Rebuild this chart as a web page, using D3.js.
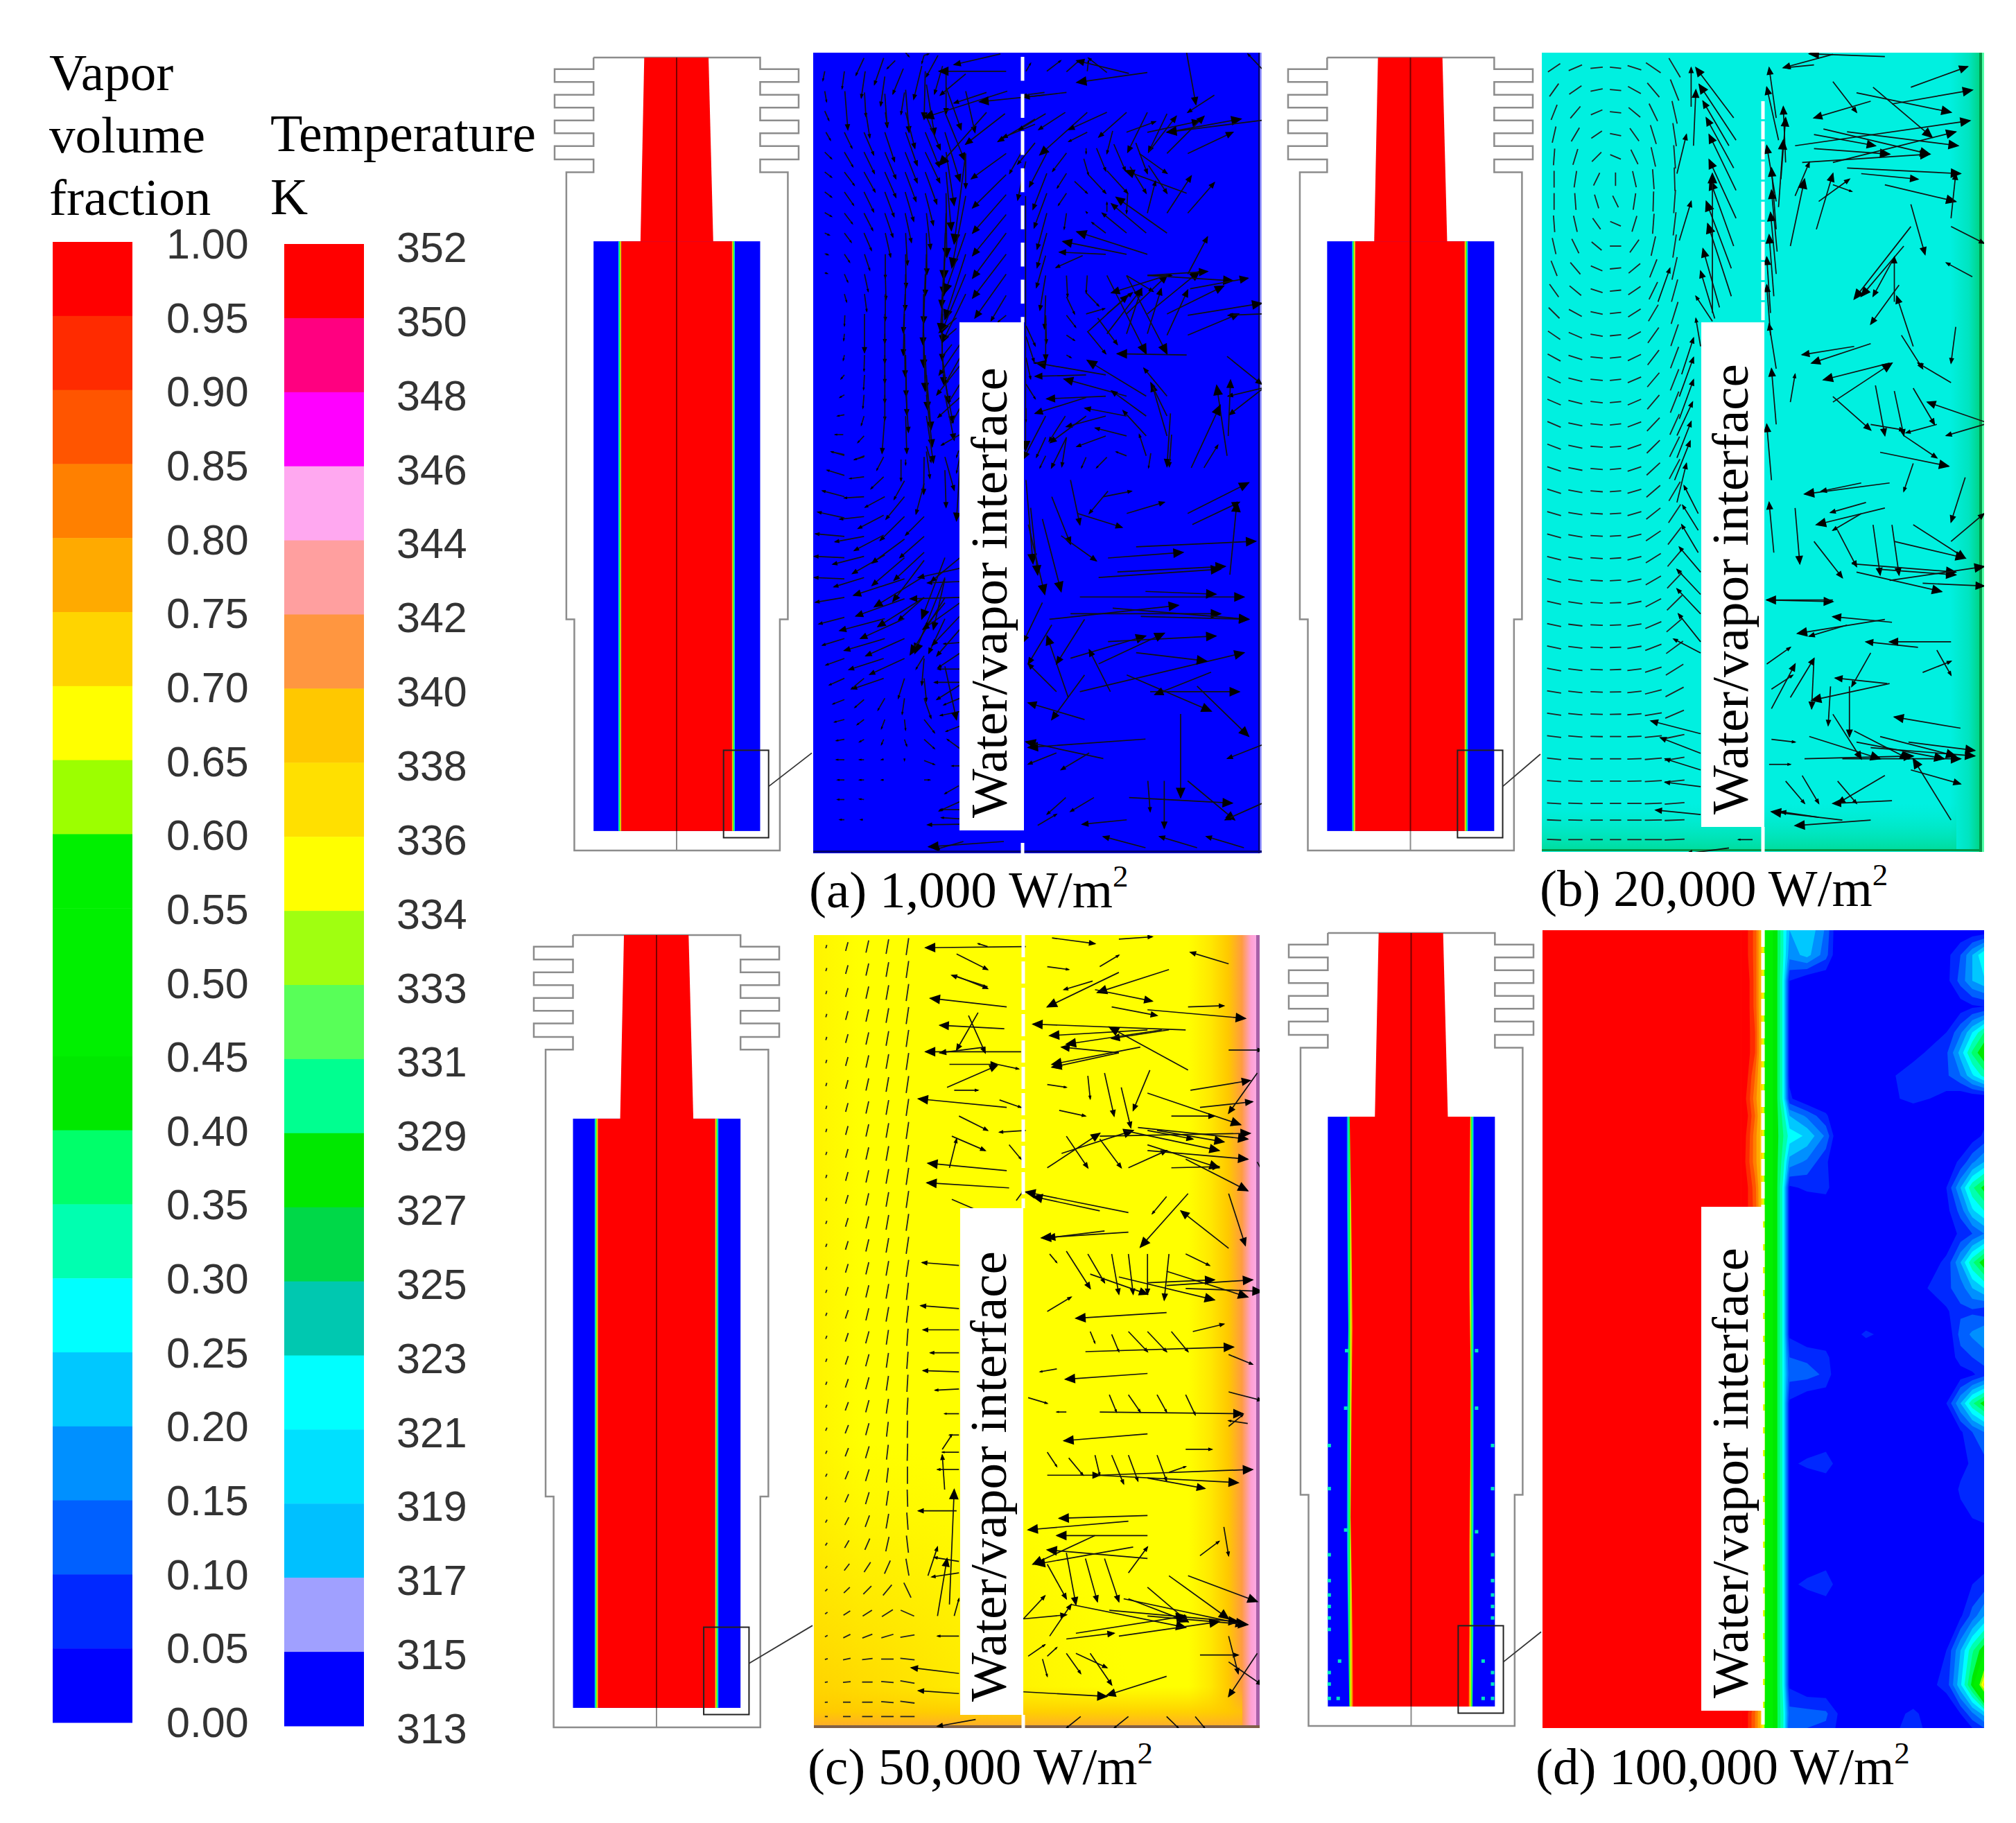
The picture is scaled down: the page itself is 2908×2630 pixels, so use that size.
<!DOCTYPE html>
<html><head><meta charset="utf-8">
<script src="https://cdn.jsdelivr.net/npm/d3@7"></script>
<style>html,body{margin:0;padding:0;background:#fff}svg{display:block}</style>
</head><body><svg id="c" width="2908" height="2630"></svg>
<script>
// ---------- legend data ----------
const fractionLabels=["1.00","0.95","0.90","0.85","0.80","0.75","0.70","0.65","0.60","0.55","0.50","0.45","0.40","0.35","0.30","0.25","0.20","0.15","0.10","0.05","0.00"];
const fractionColors=["#ff0000","#ff2b00","#ff5500","#ff8000","#ffaa00","#ffd400","#ffff00","#9cff00","#00f000","#00f000","#00f000","#00e800","#00ff6a","#00ffb0","#00ffff","#00c8ff","#0090ff","#0060ff","#0028ff","#0000ff"];
const temperatureLabels=["352","350","348","346","344","342","340","338","336","334","333","331","329","327","325","323","321","319","317","315","313"];
const temperatureColors=["#ff0000","#ff0080","#ff00ff","#ffa8f0","#ff9f9f","#ff9640","#ffc800","#ffe000","#ffff00","#a0ff10","#58ff58","#00ff90","#00e800","#00d848","#00c8b0","#00ffff","#00e0ff","#00c0ff","#a0a0ff","#0000ff"];
const captions=[["(a) 1,000 W/m","2"],["(b) 20,000 W/m","2"],["(c) 50,000 W/m","2"],["(d) 100,000 W/m","2"]];
const interfaceLabel="Water/vapor interface";

// ---------- geometry of the section (read units) ----------
const outline=[[113,41],[113,62],[30,62],[30,85],[113,85],[113,108],[30,108],[30,131],[113,131],[113,154],[30,154],[30,177],[113,177],[113,200],[30,200],[30,224],[113,224],[113,247],[55,247],[55,1050],[72,1050],[72,1465],[510,1465],[510,1050],[527,1050],[527,247],[468,247],[468,224],[550,224],[550,200],[468,200],[468,177],[550,177],[550,154],[468,154],[468,131],[550,131],[550,108],[468,108],[468,85],[550,85],[550,62],[468,62],[468,41],[113,41]];
const core=[[221,41],[358,41],[368,371],[213,371]];
const wallRect=[113,468,371,1430];
const insetRect=[390,486,1285,1442];
const interfaces=[[164,173,407,416],[164,174,404,414],[157,167,413,423]];
const linkEnds=[1290,1292,1282,1296];
const interfaceDLeft=[[152,353],[155,500],[158,720],[156,850],[154,1050],[157,1200],[160,1379]];
const interfaceDRight=[[417,353],[415,520],[415,650],[418,800],[417,960],[415,1100],[415,1250],[413,1379]];
const dropletsD=[[113,925],[113,1000],[113,1115],[113,1160],[113,1185],[113,1205],[113,1225],[113,1245],[113,1320],[113,1340],[113,1365],[132,1365],[460,925],[460,1000],[460,1115],[460,1160],[460,1185],[460,1205],[460,1225],[440,1365],[460,1365],[460,1320],[460,1340],[150,760],[426,760],[148,860],[426,860],[148,1072],[426,1075],[135,1300],[440,1300]];

// ---------- velocity vectors: tail x,y, head x,y ----------
const vectorsAUpperLeft=[
[50,70,42,105],[50,145,58,185],[50,220,68,255],[55,300,75,330],[50,375,80,400],[50,450,80,470],[50,525,80,545],[50,603,80,618],[50,680,70,688],[50,758,65,762],[50,830,62,833],
[135,70,125,135],[137,145,150,290],[135,300,168,360],[135,375,172,430],[135,450,178,500],[135,525,175,575],[135,605,170,645],[135,680,165,715],[135,760,158,790],[135,835,150,865],[135,910,145,940],[137,990,135,1030],[135,1060,132,1085],[135,1140,130,1160],[135,1215,120,1230],[135,1290,115,1300],[135,1365,105,1370],[130,1440,95,1440],[135,1515,80,1505],
[220,20,185,85],[225,70,208,170],[222,150,228,240],[228,225,245,320],[220,300,262,385],[220,375,265,455],[220,450,268,525],[220,525,262,600],[220,605,258,670],[220,680,252,745],[222,760,245,820],[222,835,238,900],[222,910,232,975],[222,985,222,1130],[222,1140,220,1200],[222,1215,218,1270],[220,1290,215,1340],[220,1370,208,1405],[220,1445,193,1470],[222,1520,178,1535],
[305,20,265,120],[310,90,292,200],[310,155,320,280],[312,225,322,280],[310,300,352,410],[310,375,358,475],[310,450,358,545],[310,525,350,618],[310,605,345,695],[312,680,335,770],[312,760,312,850],[312,835,315,930],[312,910,312,1010],[310,985,310,1095],[310,1060,310,1170],[310,1140,310,1245],[310,1215,310,1320],[310,1290,310,1385],[310,1370,298,1510],
[355,30,320,60],[390,60,345,155],[400,140,415,300],[395,150,380,232],[400,225,440,360],[400,300,450,425],[398,375,450,490],[398,450,445,560],[398,525,435,635],[398,605,425,715],[400,680,408,800],[400,760,402,885],[400,835,398,970],[398,910,390,1055],[395,985,390,1140],[395,1060,398,1220],[400,1140,402,1295],[402,1215,405,1365],[402,1290,412,1430],[400,1370,405,1510],
[470,50,435,175],[485,70,480,250],[490,120,525,310],[485,230,550,365],[485,300,545,430],[485,375,548,490],[485,450,535,570],[485,530,520,650],[490,605,508,740],[490,680,492,835],[490,760,485,915],[485,835,478,1020],[478,910,475,1100],[478,985,478,1185],[478,1060,485,1275],[485,1140,495,1345],[490,1215,510,1420],[490,1290,515,1485],[490,1370,520,1545],
[560,50,525,155],[575,80,575,230],[575,130,640,290],[570,225,655,405],[570,300,635,485],[575,375,610,575],[575,450,598,670],[575,530,578,770],[575,605,565,855],[572,680,565,915],[570,760,555,960],[568,835,550,1050],[560,910,558,1090],[560,985,558,1160],[555,1060,565,1250],[558,1140,585,1320],[565,1215,605,1395],[570,1290,610,1460],
[660,145,700,300],[660,380,660,510],[660,380,610,720],[660,540,600,810],[660,680,570,905],[660,760,570,1005],[660,835,555,1055],[660,910,560,1090],
[835,70,545,70],[810,5,610,45],[660,80,550,160],[750,150,610,190],[840,145,480,245],[1000,160,720,185],[830,230,660,345],[750,225,545,425],[960,250,800,335],[960,270,820,320],[960,340,885,420],
[835,380,685,475],[835,460,690,585],[835,535,690,680],[835,610,690,765],[835,680,690,850],[835,760,690,925],[835,835,700,1000],[835,915,770,1010],[835,990,800,1015],[905,370,850,455],[920,410,885,555],
[480,10,500,5],[400,0,415,15],[480,10,470,40],[540,10,490,90],
[635,1100,545,1215],[635,1150,570,1250],[635,1180,535,1290],[635,1250,585,1320],[635,1300,540,1375],[635,1340,600,1395],[635,1440,555,1480],[620,1000,545,1055],[620,1040,560,1085],[600,1100,555,1150],[630,1500,620,1525]];
const vectorsALowerLeft=[
[490,10,510,70],[490,30,505,130],[570,50,610,175],[570,100,575,240],[635,50,620,110],[635,80,620,290],
[305,50,275,100],[305,125,250,170],[310,200,225,240],[395,200,315,285],[395,275,290,365],[480,275,400,345],[380,60,380,140],[400,60,400,80],[480,50,478,190],[480,150,445,265],[395,140,350,210],
[220,200,135,205],[220,275,115,285],[220,350,95,370],[220,425,85,455],[220,505,90,540],[135,350,10,340],[135,430,5,425],[135,200,40,178],[135,280,20,258],[135,510,5,505],[135,580,10,598],[135,655,25,680],[135,735,40,760],[135,810,55,835],[135,885,70,910],[135,965,85,982],[135,1040,92,1050],[135,1115,100,1120],[135,1192,100,1192],[135,1268,105,1268],[135,1342,105,1342],[135,1418,115,1418],
[220,50,180,60],[135,45,78,30],[135,120,60,100],[220,125,158,132],
[305,270,195,320],[305,345,178,403],[310,420,170,490],[395,360,255,450],[395,430,255,535],[395,510,175,572],[395,585,185,650],
[480,350,375,430],[480,410,350,515],[480,440,345,595],[480,500,265,615],[480,580,370,665],[480,580,280,690],
[310,660,115,705],[310,735,135,780],[395,660,205,735],[395,735,228,800],[395,810,245,870],
[305,810,155,852],[305,885,170,925],[220,885,165,925],[220,965,180,995],[220,1040,190,1060],[220,1115,200,1125],[220,1192,200,1192],[220,1268,200,1268],[220,1342,200,1340],[215,1418,205,1418],
[310,960,280,1005],[310,1040,295,1075],[305,1115,295,1135],[305,1190,295,1192],[305,1268,295,1268],
[395,885,368,960],[395,960,385,1020],[395,1040,400,1080],[395,1115,405,1140],[395,1190,395,1195],
[480,800,445,850],[480,810,470,910],[480,885,490,970],[480,960,510,1035],[480,1040,525,1090],[480,1115,525,1150],[480,1195,525,1210],[480,1268,505,1268],
[570,430,470,660],[570,505,440,790],[570,580,420,795],[570,660,500,790],[635,430,510,520],[635,470,455,505],[635,520,495,525],[635,580,420,585],[570,600,485,690],[570,510,520,700],
[635,600,475,700],[635,650,515,760],[635,700,535,800],[635,750,565,755],[635,790,540,845],[635,850,540,850],[635,900,525,900],[635,910,535,965],[635,960,565,985],[635,1010,550,1025],[570,840,620,1040],[635,1065,575,1085],[635,1150,580,1115],[635,1215,600,1215],[630,1290,570,1320],[635,1350,545,1385],[635,1415,555,1410],[635,1435,495,1437],[825,1500,500,1520],[650,1500,530,1530],[635,1380,550,1380]];
const vectorsAUpperRight=[
[475,78,250,30],[555,75,250,112],[380,75,300,20],[295,70,300,30],[205,72,260,30],[120,70,180,30],[30,70,50,40],[205,150,20,168],[110,150,20,160],[725,0,765,195],[845,160,730,225],
[115,230,0,290],[200,225,85,290],[295,225,90,385],[380,225,215,290],[295,300,215,335],[465,225,345,318],[555,225,470,375],[640,230,560,375],[465,300,590,260],[555,300,780,258],[640,300,960,250],[1050,255,640,300],[640,380,800,240],[560,375,680,240],[730,380,925,300],
[405,295,380,380],[290,360,290,380],[335,360,375,445],[410,345,460,445],[280,400,300,460],[380,445,470,530],[300,460,375,530],[240,485,295,530],[205,455,165,510],[205,378,145,447],[120,378,45,505],[120,455,60,590],[120,530,65,660],[120,605,78,740],[120,680,78,810],[115,765,75,885],[115,840,90,970],[115,915,110,1040],[115,990,118,1095],[115,1000,115,1160],
[505,340,555,455],[520,380,640,455],[480,430,550,530],[560,425,640,530],[725,530,460,445],[640,605,745,465],[730,605,845,490],[555,605,590,485],[470,530,465,605],[640,680,420,545],[550,680,400,570],[465,680,360,605],[380,600,380,565],[295,605,290,600],[375,680,315,640],[205,605,195,665],[205,530,170,575],
[555,760,250,675],[465,760,190,712],[375,760,175,752],[275,765,160,810],
[730,835,815,695],[205,840,210,920],[205,920,240,985],[295,840,290,905],[290,905,345,955],[205,990,245,1035],[205,1065,240,1085],[205,1140,225,1150],
[380,840,550,1135],[465,840,640,1135],[555,840,660,840],[465,840,580,900],[380,985,490,905],[465,985,640,840],[555,985,780,825],[640,985,885,880],[290,985,370,965],[730,990,1050,945],[730,1065,950,985],[1050,985,905,990],
[380,1060,530,890],[465,1060,530,890],[555,1060,615,890],[640,1065,730,895],[300,1050,470,915],[295,1050,375,1135],[340,1000,425,1100],[640,840,400,905],[560,840,925,860],[740,890,990,850],[555,840,815,825],
[725,1140,425,1135],[640,1295,540,1190],[550,1295,295,1160],[375,1215,75,1170],[290,1215,70,1220],[465,1295,195,1230],[550,1370,400,1275],[375,1295,120,1305],[290,1300,70,1360],[465,1370,285,1340],[550,1445,450,1350],[375,1370,205,1410],[290,1370,135,1470],[465,1445,330,1415],[375,1445,250,1485],[550,1520,520,1440],[465,1520,420,1505],[640,1445,575,1250],[640,1370,570,1245],[655,1360,640,1560],[660,1440,650,1560],[900,1145,1050,1250],[1050,1265,905,1295],[1050,1270,910,1365],[905,1445,915,1235],[900,1520,855,1255],[745,1565,870,1330],[800,1565,860,1480],[200,1370,130,1465],[115,1370,20,1530],[115,1450,75,1525],[205,1450,140,1565],[115,1520,90,1565],[570,1510,560,1565],[290,1525,270,1565],[380,1525,335,1565],[205,1450,185,1560],[1050,60,990,5],[30,1030,70,1105],[30,1070,65,1165],[30,1150,50,1230],[110,1170,65,1170],[28,540,28,1500],[30,1250,70,1305],[30,1340,30,1390]];
const vectorsALowerRight=[
[1035,800,1050,950],[1040,880,1075,1005],[1045,850,1060,970],[1070,870,1110,1000],[1130,800,1150,880],[1090,830,1130,915],[1110,900,1185,945],[1145,860,1240,885],[1250,860,1330,840],[1380,860,1510,805],[1390,880,1490,840],[1200,830,1260,820],[1210,820,1170,860],
[1270,920,1525,910],[1210,940,1370,930],[1470,970,1485,840],[1230,965,1460,955],[1190,975,1450,960],
[1150,1010,1500,1010],[1130,1040,1450,1040],[1220,1030,1510,1050],[1085,1050,1360,1025],[1290,1000,1440,1005],[1280,1045,1510,1050],[1130,1120,1290,1080],[1210,1090,1440,1080],[1150,1180,1500,1110],[1270,1110,1420,1125],[1190,1130,1330,1075],[1125,1190,1080,1080],
[1300,1180,1490,1180],[1250,1150,1430,1215],[1430,1145,1310,1185],[1400,1170,1510,1260],[1290,1265,1040,1280],[1200,1300,1035,1270],[1365,1220,1365,1370],[1330,1340,1330,1425],[1255,1370,1475,1380],[1295,1340,1300,1395],[1380,1340,1480,1410],[1540,1380,1460,1410],[1250,1410,1155,1418],[1540,1275,1465,1300],[1160,1230,1040,1200],[1100,1180,1040,1130],[1160,1150,1090,1230],[1215,1180,1170,1105],[1060,1420,1100,1400],[1120,1370,1080,1400],[1180,1370,1130,1395],[1290,1460,1200,1440],[1400,1460,1320,1440],[1500,1460,1420,1440],[1090,1060,1040,1130],[1070,1020,1030,1090],[1160,1050,1100,1130],[1100,1290,1040,1310],[1170,1290,1110,1320]];
const vectorsB=[
[970,150,890,60],[975,190,897,90],[960,200,905,120],[970,240,912,150],[975,280,918,180],[975,330,918,225],[970,380,920,262],[965,420,912,300],[965,470,915,340],[940,490,905,385],[930,510,900,425],[925,515,890,470],[900,560,890,510],[860,610,885,545],[855,650,885,580],[855,690,885,620],[850,720,883,660],[850,760,880,695],[845,800,878,730],[850,840,870,770],[895,860,865,810],[895,890,862,845],[895,930,860,880],[900,965,855,920],[900,1005,850,960],[900,1040,850,995],[900,1090,853,1040],[900,1110,843,1085],[880,130,880,60],[885,200,890,100],[925,500,925,250],
[1060,150,1045,60],[1065,190,1040,95],[1080,230,1075,130],[1070,260,1080,150],[1060,300,1040,200],[1065,310,1075,190],[1060,350,1050,240],[1062,390,1050,280],[1060,430,1048,320],[1055,470,1045,360],[1048,500,1040,400],[1048,540,1040,450],[1060,600,1045,520],[1060,700,1050,600],[1050,800,1040,700],[1055,930,1045,840],[1090,660,1100,610],[1040,1015,1180,1018],
[1345,95,1465,58],[1305,125,1475,100],[1230,105,1430,140],[1265,95,1390,185],[1180,85,1230,140],[1140,55,1080,60],[1180,36,1075,60],[1290,40,1130,35],[1260,120,1140,150],[1140,180,1270,200],[1100,200,1470,155],[1160,170,1385,215],[1210,175,1445,200],[1140,205,1300,215],[1115,230,1385,215],[1180,230,1440,175],[1210,240,1450,250],[1240,250,1360,260],[1290,270,1440,300],[1180,270,1220,282],[1150,300,1215,260],[1100,290,1130,230],[1090,380,1120,260],[1145,350,1180,250],[1430,330,1440,250],[1430,345,1500,375],[1345,305,1375,395],[1330,380,1240,470],[1345,345,1225,475],[1310,400,1265,470],[1320,450,1260,520],[1310,480,1310,400],[1325,540,1370,600],[1350,560,1315,470],[1440,525,1430,590],[1475,435,1420,410],[1430,625,1360,590],
[1225,560,1115,575],[1260,555,1135,590],[1300,590,1160,620],[1180,660,1305,590],[1400,700,1335,715],[1330,720,1400,760],[1280,750,1425,775],[1260,700,1330,710],[1180,650,1260,710],[1270,630,1290,720],[1310,640,1330,720],[1350,635,1395,700],[1500,695,1380,660],[1460,795,1430,875],[1350,770,1330,820],[1500,700,1420,720],
[1300,805,1120,825],[1240,805,1155,820],[1250,840,1175,858],[1290,850,1145,880],[1240,860,1180,890],[1265,880,1280,970],[1305,880,1320,970],[1350,880,1460,940],[1310,910,1460,940],[1220,950,1440,965],[1280,960,1440,970],[1190,890,1230,955],[1100,850,1110,950],[1140,910,1200,975],[1230,965,1410,1000],[1300,980,1500,955],[1370,985,1500,990],[1430,910,1500,860],
[1180,1015,1040,1015],[1305,1055,1180,1045],[1290,1050,1105,1075],[1210,1060,1130,1080],[1430,1090,1300,1090],[1360,1100,1250,1090],[1370,1145,1430,1125],[1400,1105,1430,1150],[1300,1165,1135,1195],[1295,1165,1185,1155],[1260,1110,1220,1170],[1140,1120,1135,1210],[1175,1170,1170,1240],[1215,1170,1215,1260],[1050,1210,1100,1130],
[1090,1190,1140,1120],[1450,1245,1310,1225],[1340,1270,1480,1285],[1200,1300,1450,1300],[1120,1300,1350,1295],[1230,1270,1415,1300],[1260,1280,1480,1295],[1130,1260,1280,1300],[1180,1220,1240,1300],[1225,1250,1340,1300],[1280,1260,1440,1295],[1430,1410,1350,1300],[1345,1320,1450,1345],[1290,1330,1190,1380],[1305,1375,1180,1380],[1260,1410,1100,1420],[1200,1410,1050,1395],[1150,1405,1070,1395],[1190,1340,1230,1380],[1115,1330,1150,1380],
[900,1255,795,1232],[900,1290,815,1262],[900,1320,825,1300],[900,1350,825,1342],[900,1400,805,1392],
[850,250,870,180],[855,370,880,300],[810,480,835,420],[1040,1130,1090,1100],[1050,1175,1095,1150],[1050,1265,1100,1270],[1045,1310,1090,1310],[1080,1340,1120,1380],[960,1460,870,1470],[1010,1445,980,1445]];
const vectorsC=[
[1045,55,835,57],[1005,160,845,145],[1000,198,865,192],[1035,238,835,238],[1005,335,820,320],[1005,445,840,432],[1010,475,838,466],[905,610,828,605],[905,685,825,680],[905,722,830,722],[905,762,845,762],[905,795,830,793],[905,825,855,827],[905,868,875,868],[905,905,885,905],[905,935,870,935],[905,965,860,965],[900,1037,820,1037],[905,1125,853,1118],[905,1145,848,1152],[905,1255,860,1255],[905,1320,805,1310],[905,1355,820,1350],[940,1400,860,1412],
[965,125,890,105],[965,55,945,50],[900,68,965,95],[895,105,965,128],[945,170,900,235],[925,175,960,240],[960,230,865,240],[885,260,985,260],[880,300,985,262],[985,260,1030,268],[895,305,945,305],[990,322,1035,335],[1045,375,990,378],[905,350,965,375],[890,385,960,410],[1010,400,1035,425],[885,440,900,390],[890,495,960,520],[1025,497,1040,480],
[860,1220,880,1120],[885,1200,895,1000],[840,1150,860,1100],[870,930,890,905],[875,1000,870,940],[895,1220,905,1190],
[1345,95,1195,135],[1240,100,1090,160],[1185,115,1125,130],[1090,90,1135,95],[1200,90,1240,70],[1240,42,1310,38],[1100,40,1190,50],[1190,130,1310,150],[1470,85,1390,65],[1225,160,1320,175],[1300,165,1505,180],[1385,160,1460,158],[1380,200,1060,190],[1345,200,1225,215],[1300,200,1095,210],[1385,270,1220,195],[1240,240,1120,230],[1285,230,1100,260],[1330,200,1130,225],[1240,240,1100,265],[1090,295,1130,300],
[1390,305,1515,288],[1410,335,1520,325],[1470,235,1540,235],[1530,275,1470,345],[1115,340,1170,350],[1175,280,1180,320],[1210,275,1230,350],[1245,300,1265,370],[1305,270,1270,340],[1300,310,1495,365],[1350,350,1440,350],[1280,370,1510,390],[1090,440,1200,380],[1120,415,1270,375],[1250,375,1450,410],[1300,375,1395,390],[1320,375,1460,395],[1200,385,1515,380],[1130,385,1175,440],[1200,390,1245,440],[1300,400,1450,440],[1260,440,1340,410],[1300,410,1510,425],[1380,425,1510,480],[1350,440,1450,438],[1530,430,1540,445],
[1260,518,1045,482],[1200,515,1060,490],[1260,552,1078,562],[1210,550,1090,562],[1385,485,1285,578],[1470,580,1370,515],[1470,485,1505,575],[1340,490,1310,520],[1095,590,1110,605],[1130,585,1180,650],[1175,590,1210,640],[1225,590,1240,660],[1260,590,1270,660],[1300,590,1300,660],[1345,590,1335,670],[1380,590,1430,610],[1180,625,1300,660],[1240,630,1440,670],[1340,645,1520,635],[1300,640,1440,635],[1340,620,1510,665],[1380,650,1540,655],
[1340,692,1150,702],[1090,690,1140,665],[1395,725,1460,712],[1180,725,1190,745],[1225,730,1240,760],[1260,725,1300,760],[1300,725,1340,760],[1350,725,1385,760],[1170,760,1480,752],[1470,765,1520,782],[1300,798,1128,808],[1110,790,1075,795],[1050,840,1090,850],[1130,865,1110,865],[1220,835,1235,865],[1260,835,1285,865],[1320,835,1340,865],[1380,835,1400,870],[1200,865,1500,868],[1470,830,1540,845],[1510,885,1470,880],[1300,903,1125,915],[1090,935,1110,960],[1380,930,1435,930],[1135,945,1165,975],[1190,940,1200,975],[1225,940,1250,990],[1260,940,1280,985],[1320,940,1340,985],[1345,970,1380,960],[1090,975,1200,975],[1200,975,1520,965],[1195,975,1490,988],[1300,980,1420,998],[1470,890,1500,870],
[1300,1045,1115,1050],[1260,1055,1050,1070],[1300,1080,1110,1080],[1190,1080,1060,1130],[1300,1120,1090,1105],[1270,1100,1065,1130],[1460,1065,1470,1115],[1410,1115,1450,1090],[1130,1110,1150,1200],[1170,1120,1195,1195],[1210,1120,1240,1195],[1260,1145,1300,1100],[1090,1130,1130,1190],[1385,1150,1530,1195],[1345,1150,1470,1225],[1300,1170,1385,1230],[1260,1190,1385,1230],[1250,1190,1505,1235],[1140,1200,1380,1240],[1220,1210,1490,1230],[1300,1220,1510,1235],[1150,1250,1380,1220],[1240,1255,1450,1230],[1130,1260,1230,1250],[1095,1255,1140,1200],[1040,1225,1130,1218],[1040,1225,1085,1185],[1150,1285,1215,1310],[1180,1285,1225,1340],[1130,1285,1160,1320],[1080,1295,1090,1325],[1410,1288,1490,1288],[1470,1255,1490,1320],[1530,1285,1470,1360],[1470,1300,1540,1340],[1340,1325,1215,1358],[1040,1352,1215,1360],[1340,1395,1365,1415],[1160,1395,1130,1415],[1260,1395,1230,1415],[1400,1395,1420,1415],[1090,1290,1110,1275],[1050,1290,1085,1270]];
const meshBx=[590,635,680,720,760,800,845];
const meshBlen=[30,30,26,24,30,36,42];
const meshB=[
[60,30,20,5,-5,-15,-30,-55],[100,50,30,10,-5,-25,-45,-65],[140,65,45,20,-5,-35,-60,-75],[180,75,55,30,-10,-50,-70,-80],[220,85,70,40,-20,-60,-75,-85],[260,90,80,60,90,-75,-85,-88],[300,90,-85,-70,-60,80,88,85],[340,-85,-75,-50,-20,70,85,82],[380,-75,-60,-35,0,50,75,80],[420,-65,-45,-20,5,35,65,75],[460,-50,-35,-15,5,30,60,72],[500,-40,-25,-10,5,28,55,70],[540,-30,-20,-8,5,25,50,68],[580,-25,-15,-5,5,22,48,66],[620,-22,-12,-5,5,20,45,65],[660,-20,-12,-5,5,20,45,65],[700,-20,-10,-5,5,18,42,62],[740,-18,-10,-4,4,16,40,60],[780,-16,-9,-4,4,16,38,58],[820,-15,-9,-4,4,14,36,55],[860,-14,-8,-3,3,14,34,52],[900,-13,-8,-3,3,12,30,48],[940,-12,-8,-3,3,12,28,45],[980,-12,-7,-3,3,10,26,42],[1020,-11,-7,-3,2,10,24,40],[1060,-10,-6,-2,2,8,20,36],[1100,-10,-6,-2,2,8,18,32],[1140,-9,-6,-2,2,6,15,28],[1180,-8,-5,-2,1,5,12,24],[1220,-7,-5,-1,1,4,8,20],[1260,-6,-4,-1,0,2,5,10],[1300,-5,-3,0,0,2,4,8],[1340,-4,-2,0,0,1,3,5],[1380,-3,-2,0,0,0,2,4],[1410,-2,-1,0,0,0,1,2],[1445,-2,0,0,0,0,0,2]];
const meshCx=[627,670,713,755,797];
const meshClen=[6,16,22,26,30];
const meshC=[
[55,70,72,75,78,80],[95,70,72,75,78,80],[135,70,72,75,78,80],[175,70,72,75,78,80],[215,70,72,75,78,80],[255,70,72,75,78,80],[295,70,72,75,78,80],[335,70,72,75,78,80],[375,70,72,75,78,80],[415,68,72,75,78,80],[455,68,72,75,78,80],[495,68,70,75,78,80],[535,68,70,74,78,80],[575,66,70,74,78,80],[615,66,70,74,78,80],[655,66,70,74,78,82],[695,65,68,74,78,82],[735,65,68,72,80,85],[775,65,68,72,80,85],[815,65,68,72,80,86],[855,62,66,72,80,86],[895,62,65,72,82,88],[935,62,65,70,82,88],[975,60,64,70,82,90],[1015,60,62,70,80,-88],[1055,55,58,66,78,-85],[1095,50,55,62,75,-82],[1135,45,47,52,62,-78],[1175,40,38,40,45,-60],[1215,33,28,28,28,-20],[1255,28,22,18,14,8],[1295,15,10,5,0,-5],[1335,8,4,0,-4,-8],[1370,3,0,0,-4,-6],[1395,0,0,0,0,0]];
// contour grid of vapor volume fraction in panel (d)
const gridDx=[985,1000,1015,1030,1040,1060,1075,1088,1125,1165,1190,1250,1350,1420,1450,1475,1500];
const gridDy=[27,70,115,160,205,240,280,320,350,385,430,475,515,555,605,650,690,730,770,800,850,900,955,1000,1050,1100,1165,1220,1280,1340,1390,1415];
const gridD=[
[1,.95,.88,.72,.5,.42,.3,.2,.25,.14,0,0,0,0,0,0,0],
[1,.95,.88,.72,.5,.42,.3,.17,.22,.12,0,0,0,.03,.1,.2,.3],
[1,.97,.88,.72,.5,.42,.28,.05,0,0,0,0,0,.03,.12,.2,.24],
[1,.97,.88,.72,.5,.42,.28,.04,0,0,0,0,0,0,.02,.04,.05],
[1,.97,.9,.72,.5,.42,.28,.04,0,0,0,0,.01,.05,.14,.25,.35],
[1,.97,.9,.72,.5,.42,.28,.04,0,0,0,0,.03,.09,.22,.36,.45],
[1,.95,.85,.72,.5,.42,.28,.04,0,0,0,0,.08,.09,.15,.24,.32],
[1,.93,.82,.72,.5,.42,.28,.06,0,0,0,0,.07,.03,0,0,0],
[1,.95,.85,.72,.5,.42,.33,.2,.14,.06,0,0,0,0,0,0,.03],
[1,.93,.82,.72,.5,.42,.35,.28,.24,.14,0,0,0,0,0,.02,.06],
[1,.92,.82,.72,.5,.42,.32,.18,.14,.06,0,0,0,.02,.06,.14,.2],
[1,.95,.87,.72,.5,.42,.28,.04,.06,.07,0,0,0,.05,.2,.34,.42],
[1,.95,.88,.72,.5,.42,.28,.04,0,0,0,0,0,.03,.12,.24,.3],
[1,1,.95,.75,.5,.42,.28,.04,0,0,0,0,0,.02,.06,.1,.15],
[1,1,.95,.75,.5,.42,.28,.04,0,0,0,0,0,.06,.2,.34,.44],
[1,1,.95,.75,.5,.42,.28,.04,0,0,0,0,.02,.09,.12,.2,.25],
[1,1,.95,.75,.5,.42,.28,.04,0,0,0,0,0,.04,.09,.09,.07],
[1,1,.95,.75,.5,.42,.28,.04,0,0,0,.06,0,0,.12,.16,.2],
[1,1,.95,.75,.5,.42,.28,.1,.09,.07,0,0,0,0,.08,.1,.12],
[1,1,.95,.75,.5,.42,.28,.12,.12,.09,0,0,0,0,.02,.04,.08],
[1,1,.95,.75,.5,.42,.28,.04,0,0,0,0,0,.05,.2,.34,.43],
[1,1,.95,.75,.5,.42,.28,.04,0,0,0,0,0,0,.04,.1,.15],
[1,1,.95,.75,.5,.42,.28,.04,.06,.08,.03,0,0,0,.03,.06,.08],
[1,1,.95,.75,.5,.42,.28,.04,0,0,0,0,0,0,.06,.09,.1],
[1,1,.95,.75,.5,.42,.28,.04,0,0,0,0,0,0,.03,.05,.06],
[1,1,.95,.75,.5,.42,.28,.04,0,0,0,0,0,0,0,0,0],
[1,1,.95,.75,.5,.42,.28,.04,.06,.08,.03,0,0,0,0,.05,.07],
[1,1,.95,.75,.5,.42,.28,.04,0,0,0,0,0,0,.04,.12,.2],
[1,1,.95,.75,.5,.42,.28,.04,0,0,0,0,0,.05,.2,.34,.44],
[1,1,.93,.75,.5,.42,.28,.04,0,0,0,0,0,.07,.24,.42,.72],
[1,.95,.85,.72,.5,.42,.3,.12,.12,.11,.05,0,.06,0,.05,.14,.22],
[1,.95,.85,.72,.5,.42,.3,.1,.1,.09,.04,0,.07,0,0,.05,.1]];

// ---------- layout ----------
const svg=d3.select("#c");
const defs=svg.append("defs");
const serif="'Liberation Serif','Times New Roman',serif", sans="'Liberation Sans',Arial,sans-serif";
const titleSize=75;
const legendLayouts=[
 {colors:fractionColors,labels:fractionLabels,x:[76,191],y:[349,2485],lx:240,ly:[373,2506]},
 {colors:temperatureColors,labels:temperatureLabels,x:[410,525],y:[352,2490],lx:572,ly:[378,2515]}];
legendLayouts.forEach(L=>{
  const bands=d3.scaleBand().domain(d3.range(L.colors.length)).range(L.y).paddingInner(0);
  const g=svg.append("g");
  g.selectAll("rect").data(L.colors).join("rect").attr("x",L.x[0]).attr("width",L.x[1]-L.x[0])
   .attr("y",(d,i)=>bands(i)).attr("height",bands.bandwidth()+.5).attr("fill",d=>d);
  const ty=d3.scalePoint().domain(L.labels).range(L.ly);
  g.selectAll("text").data(L.labels).join("text").attr("x",L.lx).attr("y",d=>ty(d)).text(d=>d)
   .attr("font-family",sans).attr("font-size",61).attr("fill","#333");
});
[["Vapor",71,130],["volume",71,220],["fraction",71,310],["Temperature",390,218],["K",390,309]].forEach(t=>{
  svg.append("text").attr("x",t[1]).attr("y",t[2]).text(t[0]).attr("font-family",serif).attr("font-size",t[0]==="Temperature"?76:titleSize).attr("fill","#000");
});

const interp=[[0,"#0000ff"],[.12,"#0000ff"],[.3,"#00e0e0"],[.48,"#00ff40"],[.66,"#e0f000"],[.84,"#ff9000"],[1,"#ff0000"]];
stops0("ifL",interp);
stops0("ifR",interp.map(s=>[1-s[0],s[1]]).reverse());
function stops0(id,list){const el=defs.append("linearGradient").attr("id",id);list.forEach(s=>el.append("stop").attr("offset",s[0]).attr("stop-color",s[1]));}
const stops=(el,list)=>list.forEach(s=>el.append("stop").attr("offset",s[0]).attr("stop-color",s[1]).attr("stop-opacity",s[2]===undefined?1:s[2]));
stops(defs.append("linearGradient").attr("id","bEdge"),[[0,"#00f0e0"],[.55,"#00f0e0"],[.8,"#00e4c0"],[1,"#00d070"]]);
stops(defs.append("linearGradient").attr("id","bBottom").attr("x1",0).attr("x2",0).attr("y1",0).attr("y2",1),[[0,"#00e4c0",0],[1,"#00d890",.8]]);
stops(defs.append("linearGradient").attr("id","cEdge"),[[0,"#fff400"],[.1,"#ffff00"],[.84,"#ffff00"],[.89,"#ffe800"],[.93,"#ffc800"],[.96,"#ff9c40"],[.98,"#ffa0d0"],[1,"#ffb0f0"]]);
stops(defs.append("linearGradient").attr("id","cBottom").attr("x1",0).attr("x2",0).attr("y1",0).attr("y2",1),[[0,"#ffd000",0],[.6,"#ffc800",.8],[1,"#ffa830",1]]);
stops(defs.append("radialGradient").attr("id","cCorner").attr("cx",0).attr("cy",1).attr("r",1),[[0,"#ffc800",.9],[1,"#ffe000",0]]);

const panels=[
 {sx:[800,1152],sy:[83,1227],box:[1173,1820,76,1231],
  sets:[{v:vectorsAUpperLeft,dx:[0,960],rx:[1173,1493],dy:[0,1568],ry:[76,676]},{v:vectorsALowerLeft,dx:[0,960],rx:[1173,1493],dy:[0,1568],ry:[640,1240]},{v:vectorsAUpperRight,dx:[0,1080],rx:[1470,1830],dy:[0,1568],ry:[76,676]},{v:vectorsALowerRight,dx:[581,1538],rx:[1173,1820],dy:[33,1470],ry:[76,1231]}],
  label:[1384,1477,465,1198],tb:1452,tc:855,cap:[1167,1309],white:1475,trace:[[82,465,"34.4 19.2"],[1216,1231,null]]},
 {sx:[1858,2211],sy:[83,1227],box:[2224,2862,76,1229],
  sets:[{v:vectorsB,dx:[564,1500],rx:[2224,2862],dy:[33,1467],ry:[76,1229]}],
  label:[2454,2545,465,1193],tb:2521,tc:850,cap:[2221,1307],white:2543,trace:[[146,465,"26 3"],[1193,1229,null]]},
 {sx:[770,1124],sy:[1349,2492],box:[1174,1817,1349,2493],
  sets:[{v:vectorsC,dx:[601,1535],rx:[1174,1817],dy:[35,1415],ry:[1349,2493]}],
  label:[1385,1476,1743,2474],tb:1451,tc:2130,cap:[1165,2574],white:1476,trace:[[1349,1743,"32 6"],[2474,2493,null]]},
 {sx:[1859,2212],sy:[1346,2490],box:[2225,2862,1342,2493],sets:[],
  label:[2454,2543,1741,2468],tb:2521,tc:2125,cap:[2215,2574],white:2543,trace:[[1342,2493,"24 9"]]}];

const gridLine=d3.line();
panels.forEach((p,pi)=>{
  const g=svg.append("g");
  const X=d3.scaleLinear().domain([30,550]).range(p.sx), Y=d3.scaleLinear().domain([41,1465]).range(p.sy);
  const poly=a=>gridLine(a.map(q=>[X(q[0]),Y(q[1])]));
  g.append("path").attr("d",poly(outline)).attr("fill","#fff").attr("stroke","#8c8c8c").attr("stroke-width",2.5);
  g.append("rect").attr("x",X(wallRect[0])).attr("y",Y(wallRect[2])).attr("width",X(wallRect[1])-X(wallRect[0])).attr("height",Y(wallRect[3])-Y(wallRect[2])).attr("fill","#0000ff");
  g.append("path").attr("d",poly(core)+"Z").attr("fill","#ff0000");
  if(pi<3){
    const f=interfaces[pi];
    g.append("rect").attr("x",X(f[1])).attr("y",Y(371)).attr("width",X(f[2])-X(f[1])).attr("height",Y(1430)-Y(371)).attr("fill","#ff0000");
    g.append("rect").attr("x",X(f[0])).attr("y",Y(371)).attr("width",X(f[1])-X(f[0])).attr("height",Y(1430)-Y(371)).attr("fill","url(#ifL)");
    g.append("rect").attr("x",X(f[2])).attr("y",Y(371)).attr("width",X(f[3])-X(f[2])).attr("height",Y(1430)-Y(371)).attr("fill","url(#ifR)");
  } else {
    const dx=d3.scaleLinear().domain([111,463]).range([1916,2155]), dy=d3.scaleLinear().domain([353,1379]).range([Y(371),Y(1430)]);
    const hw=3;
    const area=d3.area().x0(d=>dx(d[0])+hw).x1(d=>dx(d[0])-hw).y(d=>dy(d[1]));
    const body=interfaceDLeft.map(d=>[dx(d[0]),dy(d[1])]).concat(interfaceDRight.slice().reverse().map(d=>[dx(d[0]),dy(d[1])]));
    g.append("path").attr("d",d3.line()(body)+"Z").attr("fill","#ff0000");
    g.append("path").attr("d",area(interfaceDLeft)).attr("fill","url(#ifL)");
    g.append("path").attr("d",area(interfaceDRight)).attr("fill","url(#ifR)");
    g.selectAll("rect.drop").data(dropletsD).join("rect").attr("class","drop").attr("x",d=>dx(d[0])-2.5).attr("y",d=>dy(d[1])-2.5).attr("width",5).attr("height",5).attr("fill","#00e8c0");
  }
  g.append("line").attr("x1",X(290)).attr("x2",X(290)).attr("y1",Y(41)).attr("y2",Y(1430)).attr("stroke","#7a0000").attr("stroke-width",2);
  g.append("line").attr("x1",X(290)).attr("x2",X(290)).attr("y1",Y(1430)).attr("y2",Y(1465)).attr("stroke","#8c8c8c").attr("stroke-width",2);
  g.append("rect").attr("x",X(insetRect[0])).attr("y",Y(insetRect[2])).attr("width",X(insetRect[1])-X(insetRect[0])).attr("height",Y(insetRect[3])-Y(insetRect[2])).attr("fill","none").attr("stroke","#222").attr("stroke-width",2);
  g.append("line").attr("x1",X(486)).attr("y1",Y(1350)).attr("x2",p.box[0]-2).attr("y2",Y(linkEnds[pi])).attr("stroke","#333").attr("stroke-width",1.8);

  const [x0,x1,y0,y1]=p.box, w=x1-x0, h=y1-y0;
  const cid="clip"+pi;
  defs.append("clipPath").attr("id",cid).append("rect").attr("x",x0).attr("y",y0).attr("width",w).attr("height",h);
  const P=g.append("g").attr("clip-path",`url(#${cid})`);
  const fillBox=(x,y,ww,hh,c)=>P.append("rect").attr("x",x).attr("y",y).attr("width",ww).attr("height",hh).attr("fill",c);
  if(pi===0){
    fillBox(x0,y0,w,h,"#0000ff");
    fillBox(x1-5,y0,2.5,h,"#000070");
    fillBox(x1-2.5,y0,2.5,h,"#a0a0ff");
    fillBox(x0,y1-4,w,3,"#000070");
  }
  if(pi===1){
    fillBox(x0,y0,w,h,"#00f0e0");
    fillBox(x1-110,y0,110,h,"url(#bEdge)");
    fillBox(x0,y1-70,w-40,66,"url(#bBottom)");
    fillBox(x1-7,y0,4,h,"#009848");
    fillBox(x1-3,y0,3,h,"#50ffa8");
    fillBox(x0,y1-4,w-3,3,"#009848");
  }
  if(pi===2){
    fillBox(x0,y0,w,h,"url(#cEdge)");
    fillBox(x0,y1-420,460,420,"url(#cCorner)");
    fillBox(x0,y1-60,w-25,60,"url(#cBottom)");
    fillBox(x1-5,y0,5,h,"#a860a8");
    fillBox(x0,y1-4,w,4,"#806048");
  }
  if(pi===3){
    const vx=d3.scaleLinear().domain([565,1500]).range([x0,x1]), vy=d3.scaleLinear().domain([27,1415]).range([y0,y1]);
    fillBox(x0,y0,w,h,"#0000ff");
    fillBox(x0,y0,vx(gridDx[0])+1-x0,h,"#ff0000");
    const n=gridDx.length,m=gridDy.length;
    const cellX=d3.scaleLinear().domain(d3.range(n).map(i=>i+.5)).range(gridDx).clamp(true);
    const cellY=d3.scaleLinear().domain(d3.range(m).map(i=>i+.5)).range(gridDy).clamp(true);
    const cols=fractionColors.slice().reverse();
    const thresholds=d3.range(1,20).map(i=>i*.05-1e-6);
    const cs=d3.contours().size([n,m]).thresholds(thresholds)(gridD.flat());
    const ringLine=d3.line().x(q=>vx(cellX(q[0]))).y(q=>vy(cellY(q[1])));
    P.selectAll("path.band").data(cs).join("path").attr("class","band")
     .attr("d",c=>c.coordinates.map(pg=>pg.map(r=>ringLine(r)+"Z").join("")).join(""))
     .attr("fill-rule","evenodd").attr("fill",(c,i)=>cols[i+1]);
  }
  const vxMesh=pi===1?d3.scaleLinear().domain([564,1500]).range([x0,x1]):d3.scaleLinear().domain([601,1535]).range([x0,x1]);
  const vyMesh=pi===1?d3.scaleLinear().domain([33,1467]).range([y0,y1]):d3.scaleLinear().domain([35,1415]).range([y0,y1]);
  const dashes=[];
  if(pi===1) meshB.forEach(r=>meshBx.forEach((x,i)=>dashes.push({x,y:r[0],a:r[i+1],l:meshBlen[i]})));
  if(pi===2) meshC.forEach(r=>meshCx.forEach((x,i)=>dashes.push({x,y:r[0],a:r[i+1],l:meshClen[i]})));
  P.selectAll("line.dash").data(dashes).join("line").attr("class","dash")
   .attr("x1",d=>vxMesh(d.x-d.l/2*Math.cos(d.a*Math.PI/180))).attr("x2",d=>vxMesh(d.x+d.l/2*Math.cos(d.a*Math.PI/180)))
   .attr("y1",d=>vyMesh(d.y+d.l/2*Math.sin(d.a*Math.PI/180))).attr("y2",d=>vyMesh(d.y-d.l/2*Math.sin(d.a*Math.PI/180)))
   .attr("stroke","#222").attr("stroke-width",1.8);
  p.sets.forEach(S=>{
    const vx=d3.scaleLinear().domain(S.dx).range(S.rx), vy=d3.scaleLinear().domain(S.dy).range(S.ry);
    const A=P.append("g").selectAll("g").data(S.v).join("g");
    A.append("line").attr("x1",d=>vx(d[0])).attr("y1",d=>vy(d[1])).attr("x2",d=>vx(d[2])).attr("y2",d=>vy(d[3])).attr("stroke","#111").attr("stroke-width",1.7);
    A.append("path").attr("fill","#000").attr("d",d=>{
      const ax=vx(d[0]),ay=vy(d[1]),bx=vx(d[2]),by=vy(d[3]);
      const L=Math.hypot(bx-ax,by-ay)||1, ux=(bx-ax)/L, uy=(by-ay)/L;
      const s=Math.max(3,Math.min(14,L*.14)), t=s*.5;
      return d3.line()([[bx+ux*2,by+uy*2],[bx-ux*s-uy*t,by-uy*s+ux*t],[bx-ux*s+uy*t,by-uy*s-ux*t]])+"Z";
    });
  });
  p.trace.forEach(t=>{
    const l=g.append("line").attr("x1",p.white).attr("x2",p.white).attr("y1",t[0]).attr("y2",t[1]).attr("stroke","#fff").attr("stroke-width",5);
    if(t[2]) l.attr("stroke-dasharray",t[2]);
  });
  const [lx0,lx1,ly0,ly1]=p.label;
  g.append("rect").attr("x",lx0).attr("y",ly0).attr("width",lx1-lx0).attr("height",ly1-ly0).attr("fill","#fff");
  g.append("text").attr("transform",`translate(${p.tb},${p.tc}) rotate(-90)`).attr("text-anchor","middle").text(interfaceLabel).attr("font-family",serif).attr("font-size",titleSize).attr("fill","#000");
  const c=g.append("text").attr("x",p.cap[0]).attr("y",p.cap[1]).attr("font-family",serif).attr("font-size",titleSize).attr("fill","#000");
  c.append("tspan").text(captions[pi][0]);
  c.append("tspan").text(captions[pi][1]).attr("font-size",45).attr("dy",-30);
});
</script></body></html>
